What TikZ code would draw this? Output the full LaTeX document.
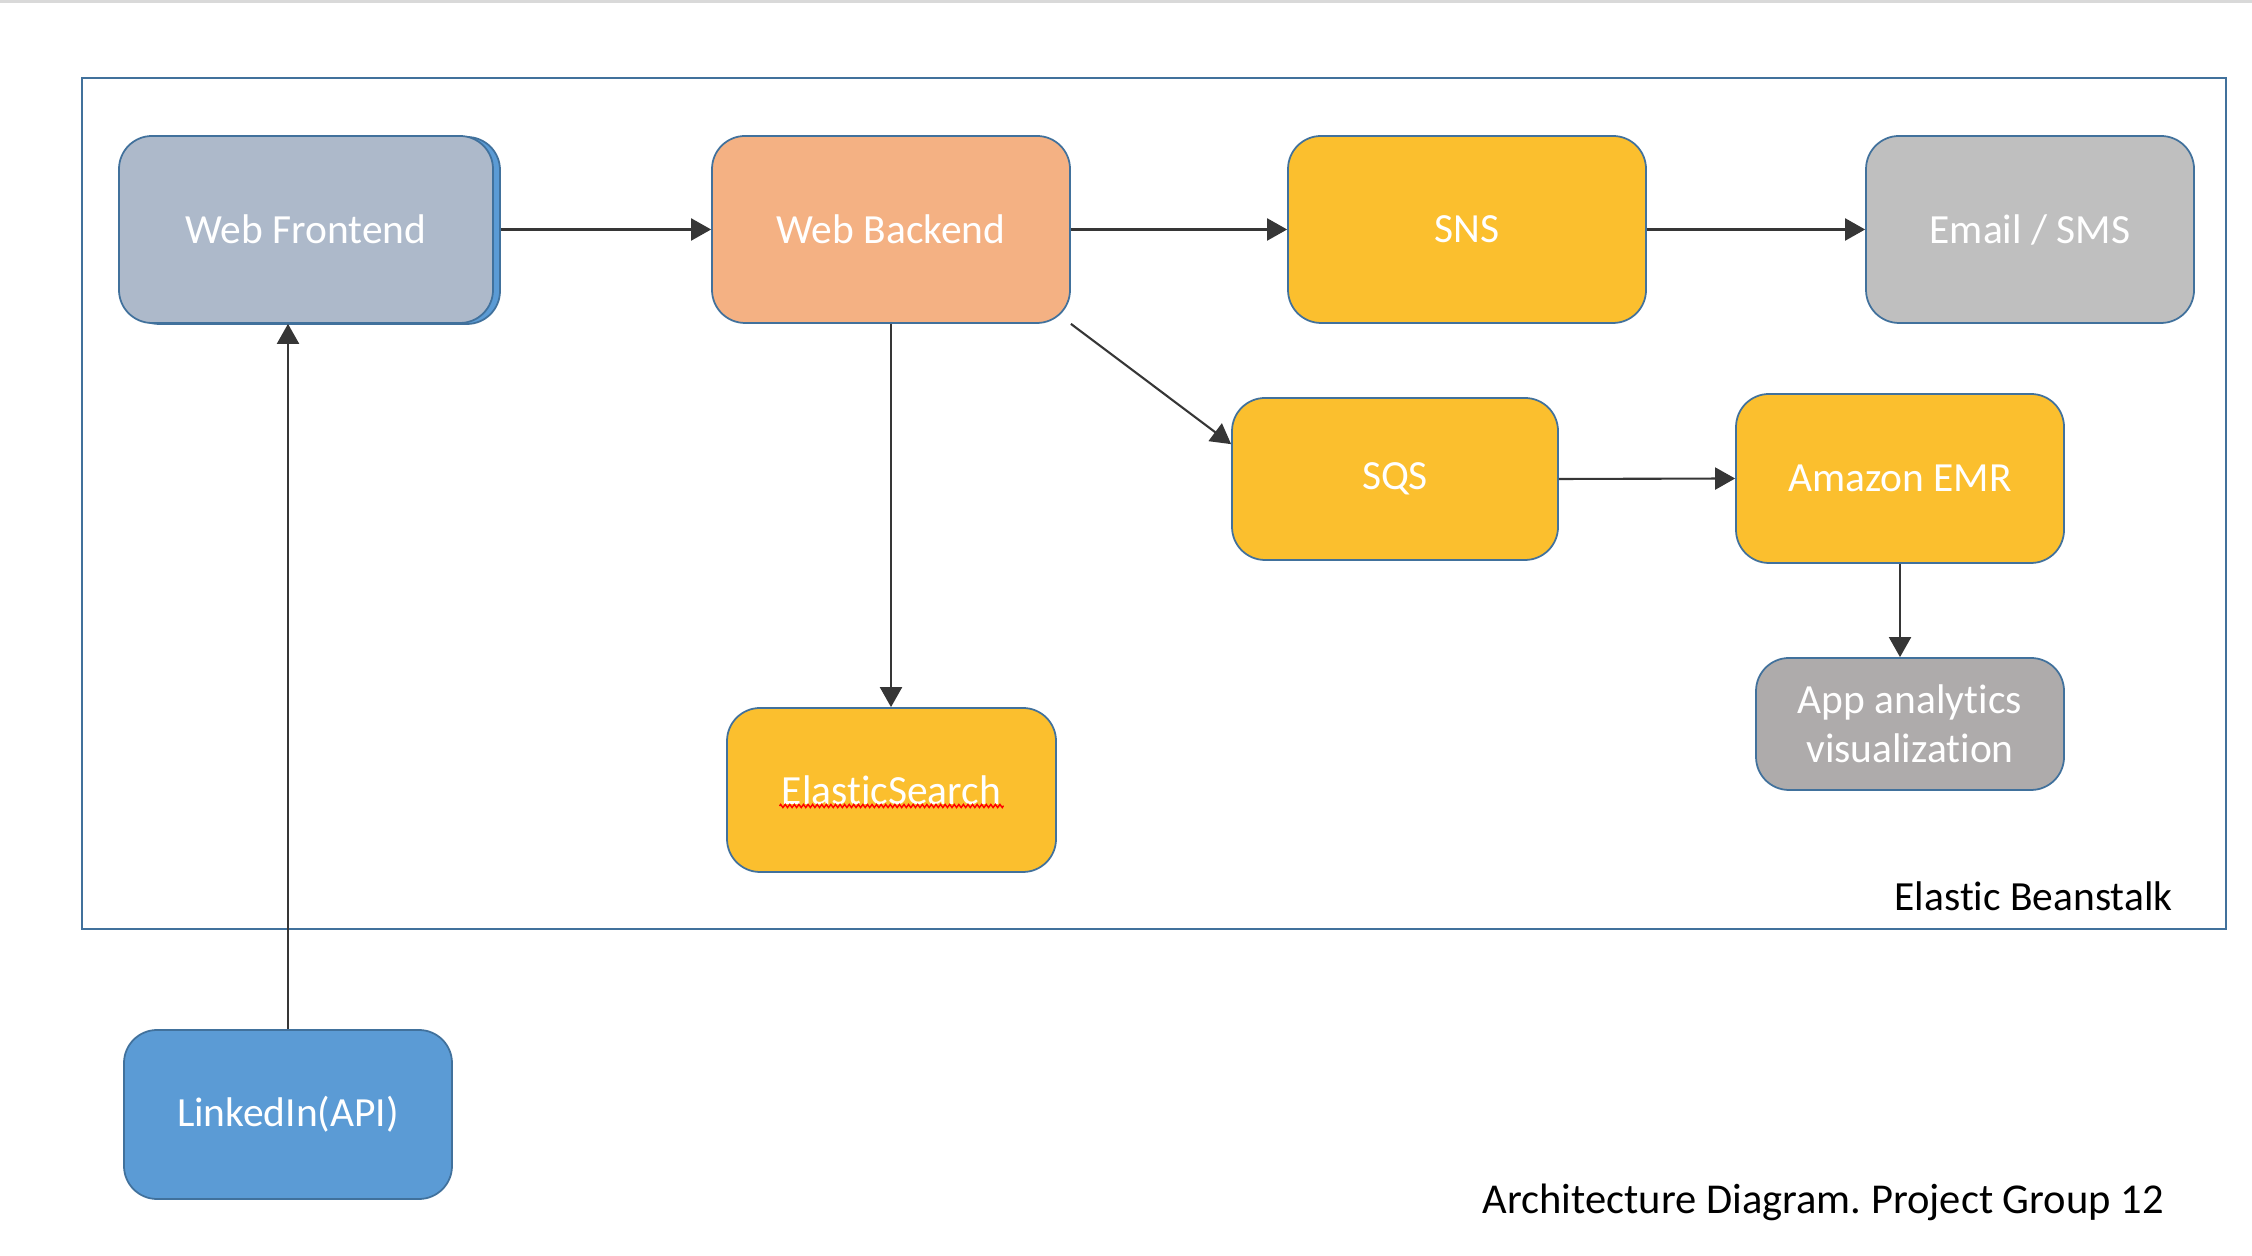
\documentclass[tikz,border=0pt]{standalone}
\usepackage{fontspec}
\setmainfont{Carlito}[Ligatures=NoCommon]
\frenchspacing
\usetikzlibrary{arrows.meta,shadows,decorations.pathmorphing}
\definecolor{edgeblue}{HTML}{41719C}
\definecolor{frontgray}{HTML}{ADB9CA}
\definecolor{shadowblue}{HTML}{5B9BD5}
\definecolor{backorange}{HTML}{F4B183}
\definecolor{awsyellow}{HTML}{FBBF2E}
\definecolor{mailgray}{HTML}{BFBFBF}
\definecolor{vizgray}{HTML}{AEABAB}
\definecolor{arrowgray}{HTML}{363636}
\begin{document}
\begin{tikzpicture}[
    box/.style={rectangle, rounded corners=0.33cm, draw=edgeblue, line width=0.5pt,
        text=white, align=center, inner sep=0pt, font=\fontsize{11.8}{14}\selectfont},
    flow/.style={draw=arrowgray, line width=0.6pt, -{Triangle[length=0.2cm, width=0.22cm]}},
    every node/.style={font=\fontsize{11.8}{14}\selectfont}
]
\useasboundingbox (0,0) rectangle (22.52,12.56);
\draw [line width=1.2pt, color=black!15] (0,12.55) -- (22.52,12.55);
% Elastic Beanstalk frame
\draw [edgeblue, line width=0.6pt] (0.82,11.78) rectangle (22.26,3.27);
\node [anchor=east] (eb) at (21.85,3.60) {Elastic Beanstalk};
\node [anchor=east, font=\fontsize{12.1}{14}\selectfont] (title) at (21.76,0.54) {Architecture Diagram. Project Group 12};
% services
\node [box, fill=frontgray, minimum width=3.74cm, minimum height=1.87cm,
    copy shadow={shadow xshift=0.07cm, shadow yshift=-0.01cm, fill=shadowblue, draw=edgeblue}]
    (wf) at (3.06,10.265) {Web Frontend};
\node [box, fill=backorange, minimum width=3.58cm, minimum height=1.87cm] (wb) at (8.91,10.265) {Web Backend};
\node [box, fill=awsyellow, minimum width=3.58cm, minimum height=1.87cm] (sns) at (14.67,10.265) {SNS};
\node [box, fill=mailgray, minimum width=3.28cm, minimum height=1.87cm] (mail) at (20.30,10.265) {Email / SMS};
\node [box, fill=awsyellow, minimum width=3.26cm, minimum height=1.62cm] (sqs) at (13.95,7.77) {SQS};
\node [box, fill=awsyellow, minimum width=3.28cm, minimum height=1.69cm] (emr) at (19.00,7.775) {Amazon EMR};
\node [box, fill=vizgray, minimum width=3.08cm, minimum height=1.32cm] (viz) at (19.10,5.32) {App analytics\\visualization};
\node [box, fill=awsyellow, minimum width=3.29cm, minimum height=1.64cm] (es) at (8.915,4.66) {ElasticSearch};
\node [box, fill=shadowblue, minimum width=3.28cm, minimum height=1.69cm] (li) at (2.88,1.415) {LinkedIn(API)};
% spell check underline
\draw [red, line width=0.4pt, decorate, decoration={zigzag, segment length=1.3pt, amplitude=0.45pt}]
    ([xshift=-1.12cm, yshift=-0.16cm]es.center) -- ([xshift=1.12cm, yshift=-0.16cm]es.center);
% connectors
\draw [flow] ([xshift=0.07cm]wf.east) -- (wb.west);
\draw [flow] (wb.east) -- (sns.west);
\draw [flow] (sns.east) -- (mail.west);
\draw [flow] (wb.south) -- (wb.south |- es.north);
\draw [flow] (wb.south east) -- (sqs.168);
\draw [flow] (sqs.east) -- (emr.west);
\draw [flow] (emr.south) -- (emr.south |- viz.north);
\draw [flow] (li.north) -- (li.north |- wf.south);
\end{tikzpicture}
\end{document}
